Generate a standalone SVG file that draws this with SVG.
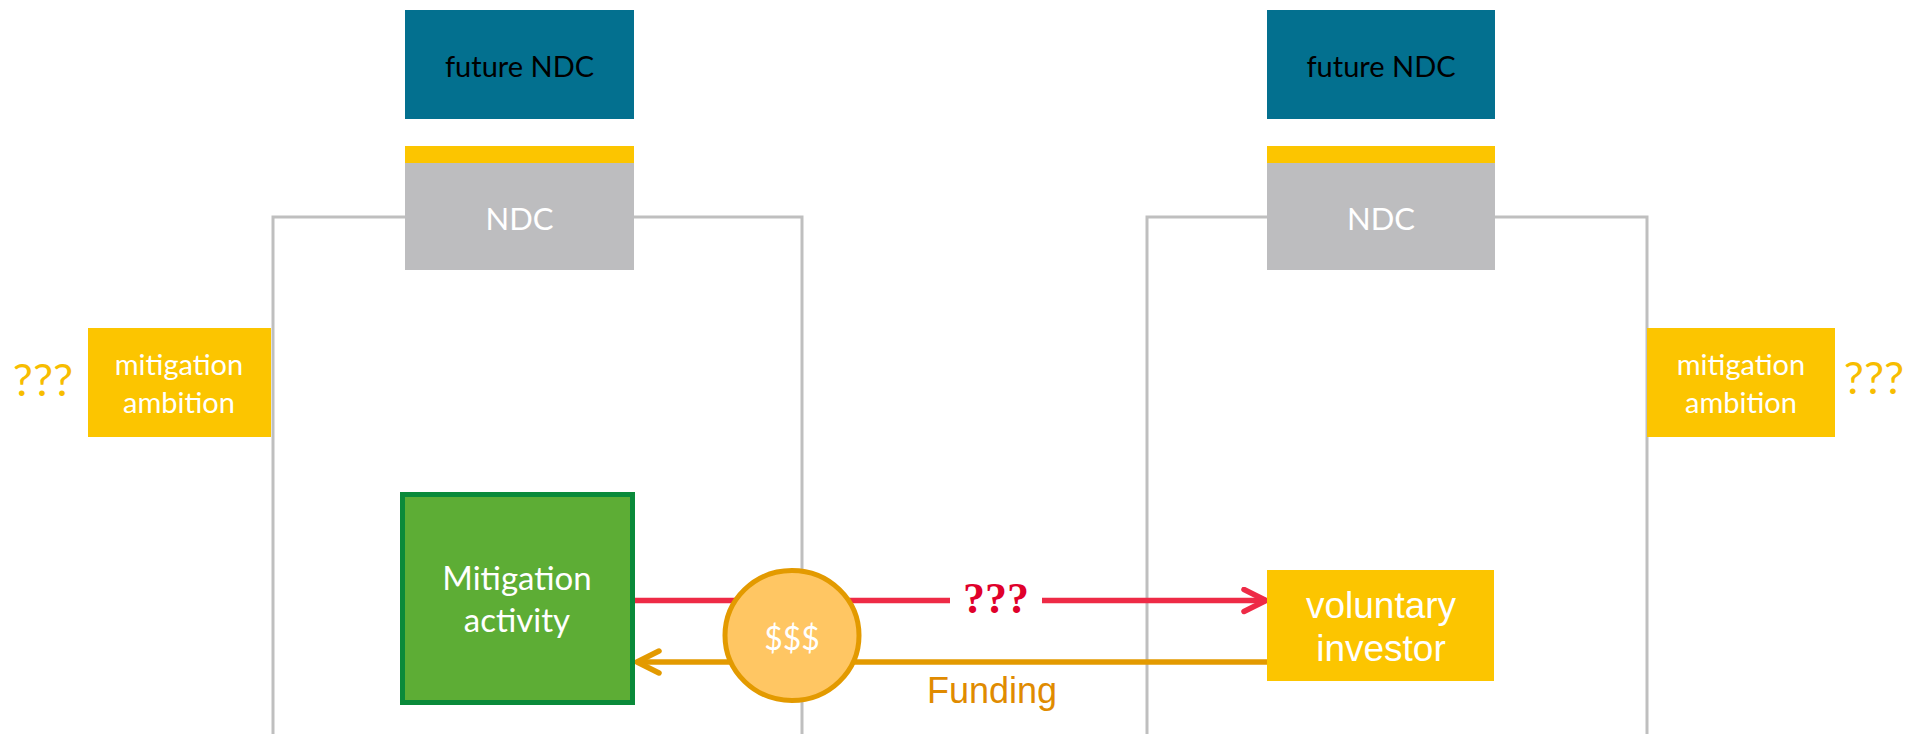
<svg xmlns="http://www.w3.org/2000/svg" width="1907" height="734" viewBox="0 0 1907 734">
  <style>
    .cal { font-family: Lato, "Open Sans", "Liberation Sans", sans-serif; }
    .ari { font-family: "Liberation Sans", Arial, sans-serif; }
    .future { fill: #03708f; }
    .future-t { fill: #000000; font-size: 29px; }
    .bar { fill: #fcc500; }
    .ndc { fill: #bdbdbf; }
    .ndc-t { fill: #ffffff; font-size: 31px; }
    .amb { fill: #fcc500; }
    .amb-t { fill: #ffffff; font-size: 29px; }
    .qq { fill: #f7bd00; font-size: 45px; }
    .bracket { fill: none; stroke: #bfbfbf; stroke-width: 3; }
  </style>
  <defs>
    <marker id="head-red" markerUnits="userSpaceOnUse" viewBox="-26 -14 30 28" refX="0" refY="0" markerWidth="30" markerHeight="28" orient="auto">
      <polyline points="-22,-11 0,0 -22,11" fill="none" stroke="#ee2a46" stroke-width="5.5" stroke-linecap="round" stroke-linejoin="round"/>
    </marker>
    <marker id="head-orange" markerUnits="userSpaceOnUse" viewBox="-26 -14 30 28" refX="0" refY="0" markerWidth="30" markerHeight="28" orient="auto">
      <polyline points="-22,-11 0,0 -22,11" fill="none" stroke="#e39a00" stroke-width="5.5" stroke-linecap="round" stroke-linejoin="round"/>
    </marker>
  </defs>
  <rect width="1907" height="734" fill="#ffffff"/>

  <!-- country boundaries -->
  <g id="boundaries">
    <polyline class="bracket" points="273,734 273,217 802,217 802,734"/>
    <polyline class="bracket" points="1147,734 1147,217 1647,217 1647,734"/>
  </g>

  <!-- host country -->
  <g id="future-ndc-left">
    <rect class="future" x="405" y="10" width="229" height="109"/>
    <text class="cal future-t" x="519.5" y="77" text-anchor="middle">future NDC</text>
  </g>
  <g id="ndc-left">
    <rect class="bar" x="405" y="146" width="229" height="18"/>
    <rect class="ndc" x="405" y="163" width="229" height="107"/>
    <text class="cal ndc-t" x="519.5" y="230" text-anchor="middle">NDC</text>
  </g>
  <g id="ambition-left">
    <rect class="amb" x="88" y="328" width="183" height="109"/>
    <text class="cal amb-t" x="179" y="375" text-anchor="middle">mitigation</text>
    <text class="cal amb-t" x="179" y="413" text-anchor="middle">ambition</text>
    <text class="cal qq" x="43" y="396" text-anchor="middle">???</text>
  </g>

  <!-- investor country -->
  <g id="future-ndc-right">
    <rect class="future" x="1267" y="10" width="228" height="109"/>
    <text class="cal future-t" x="1381" y="77" text-anchor="middle">future NDC</text>
  </g>
  <g id="ndc-right">
    <rect class="bar" x="1267" y="146" width="228" height="18"/>
    <rect class="ndc" x="1267" y="163" width="228" height="107"/>
    <text class="cal ndc-t" x="1381" y="230" text-anchor="middle">NDC</text>
  </g>
  <g id="ambition-right">
    <rect class="amb" x="1647" y="328" width="188" height="109"/>
    <text class="cal amb-t" x="1741" y="375" text-anchor="middle">mitigation</text>
    <text class="cal amb-t" x="1741" y="413" text-anchor="middle">ambition</text>
    <text class="cal qq" x="1874" y="394" text-anchor="middle">???</text>
  </g>

  <!-- flows between the activity and the investor -->
  <g id="connectors">
    <line x1="635" y1="600.5" x2="950" y2="600.5" stroke="#ee2a46" stroke-width="5.5"/>
    <line x1="1042" y1="600.5" x2="1266" y2="600.5" stroke="#ee2a46" stroke-width="5.5" marker-end="url(#head-red)"/>
    <text x="996" y="613" text-anchor="middle" font-family="'Liberation Serif', 'Times New Roman', serif" font-weight="bold" font-size="44" fill="#e0002b">???</text>
    <line x1="1267" y1="662" x2="637" y2="662" stroke="#e39a00" stroke-width="5.5" marker-end="url(#head-orange)"/>
    <text class="ari" x="992" y="703" text-anchor="middle" font-size="36" fill="#e08b00">Funding</text>
  </g>

  <g id="mitigation-activity">
    <rect x="402.5" y="494.5" width="230" height="208" fill="#5dad35" stroke="#0a8a3a" stroke-width="5"/>
    <text class="cal" x="517" y="590" text-anchor="middle" font-size="33" fill="#ffffff">Mitigation</text>
    <text class="cal" x="517" y="632" text-anchor="middle" font-size="33" fill="#ffffff">activity</text>
  </g>

  <g id="funds">
    <ellipse cx="792" cy="635.5" rx="67" ry="65" fill="#ffc663" stroke="#e39a00" stroke-width="5"/>
    <text class="cal" x="792" y="650" text-anchor="middle" font-size="32" fill="#ffffff">$$$</text>
  </g>

  <g id="voluntary-investor">
    <rect x="1267" y="570" width="227" height="111" fill="#fcc500"/>
    <text class="ari" x="1381" y="618" text-anchor="middle" font-size="37" fill="#ffffff">voluntary</text>
    <text class="ari" x="1381" y="661" text-anchor="middle" font-size="37" fill="#ffffff">investor</text>
  </g>
</svg>
